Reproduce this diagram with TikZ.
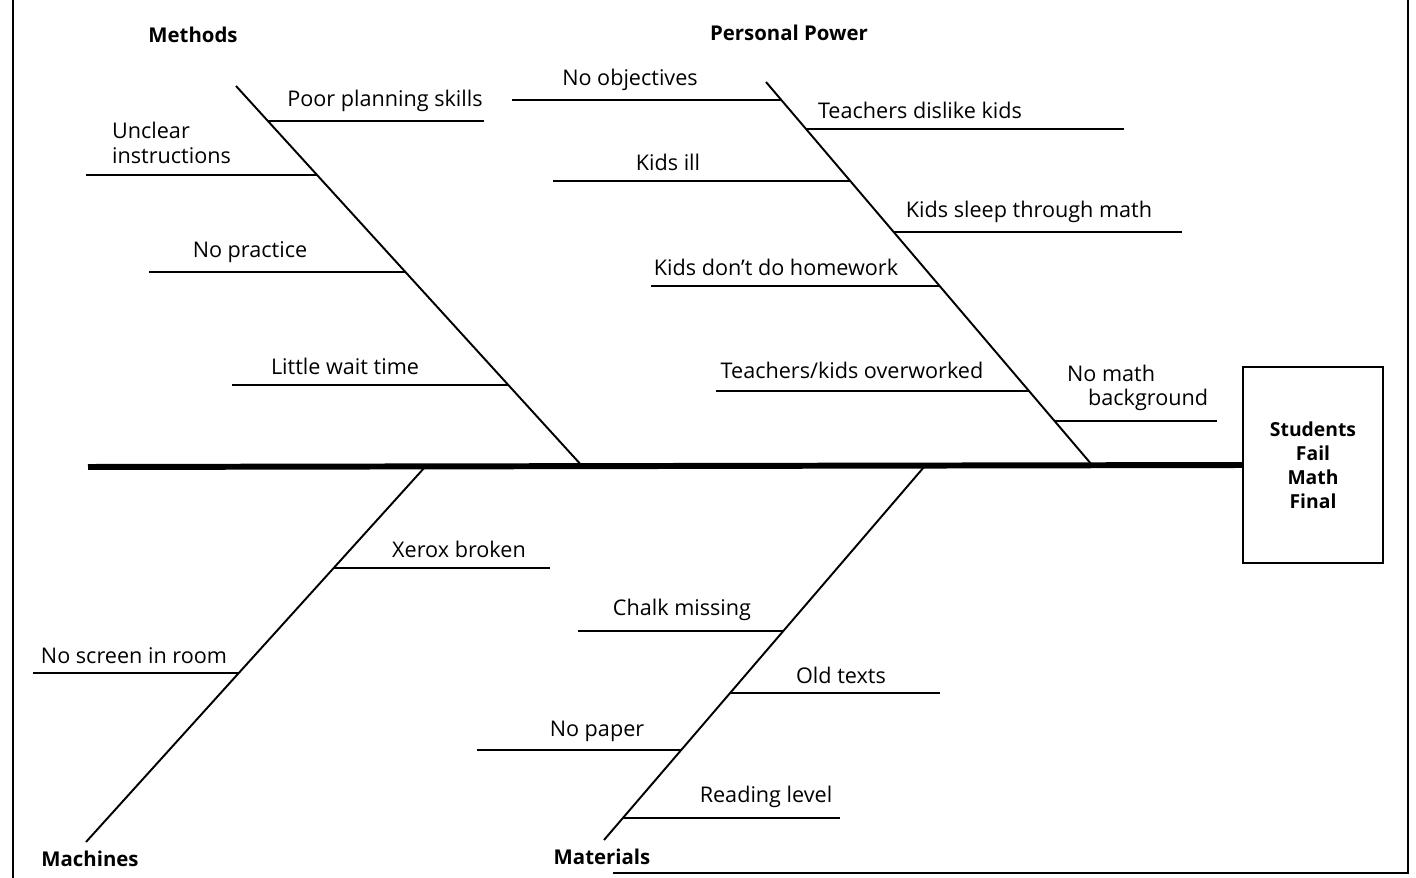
\documentclass[tikz,border=0pt]{standalone}
\usepackage{fontspec}
\setmainfont{Open Sans}
\usetikzlibrary{calc}
\tikzset{
	spine/.style={line width=3.4pt},
	bone/.style={line width=1.1pt},
	twig/.style={line width=1.3pt},
	lbl/.style={inner sep=1pt, font=\fontsize{12.3}{14}\selectfont},
	cat/.style={inner sep=1pt, font=\fontsize{11.6}{12}\selectfont\bfseries},
	effectbox/.style={draw, line width=1.2pt, minimum width=2.8cm, minimum height=3.92cm, align=center, font=\fontsize{11}{13.6}\selectfont\bfseries}
}
\begin{document}
\begin{tikzpicture}[x=0.02cm, y=-0.02cm]
		\useasboundingbox (0,0) rectangle (1416,878);
		% page frame
		\draw[line width=1pt] (13,0) -- (13,878);
		\draw[line width=1pt] (613,873) -- (1408,873) -- (1408,0);
		% head and spine
		\node[effectbox] (effect) at (1313,465) {Students\\Fail\\Math\\Final};
		\coordinate (tail) at (88,467);
		\draw[spine] (tail) -- (effect.west);
		% bones
		\coordinate (mtop) at (236,86);   \coordinate (mbot) at (583,467);
		\coordinate (ptop) at (766,82);   \coordinate (pbot) at (1092,465);
		\coordinate (cbot) at (86,842);   \coordinate (ctop) at (425,467);
		\coordinate (abot) at (604,840);  \coordinate (atop) at (924,467);
		\draw[bone] (mtop) -- (mbot);
		\draw[bone] (ptop) -- (pbot);
		\draw[bone] (cbot) -- (ctop);
		\draw[bone] (abot) -- (atop);
		% category labels
		\node[cat] (methods) at (193,35) {Methods};
		\node[cat] (power) at (789,33) {Personal Power};
		\node[cat] (machines) at (90,859) {Machines};
		\node[cat] (materials) at (602,857) {Materials};
		% Methods
		\draw[twig] ($(mtop)!0.092!(mbot)$) -- ++(216,0) coordinate (m1);
		\draw[twig] ($(mtop)!0.234!(mbot)$) -- ++(-231,0) coordinate (m2);
		\draw[twig] ($(mtop)!0.488!(mbot)$) -- ++(-256,0) coordinate (m3);
		\draw[twig] ($(mtop)!0.785!(mbot)$) -- ++(-276,0) coordinate (m4);
		\node[lbl] (planning) at (385,101) {Poor planning skills};
		\node[lbl, anchor=west, align=left] (unclear) at (110,143) {Unclear\\instructions};
		\node[lbl] (practice) at (250,252) {No practice};
		\node[lbl] (wait) at (345,366) {Little wait time};
		% Personal Power
		\draw[twig] ($(ptop)!0.047!(pbot)$) -- ++(-269,0) coordinate (p1);
		\draw[twig] ($(ptop)!0.123!(pbot)$) -- ++(318,0) coordinate (p2);
		\draw[twig] ($(ptop)!0.258!(pbot)$) -- ++(-297,0) coordinate (p3);
		\draw[twig] ($(ptop)!0.392!(pbot)$) -- ++(288,0) coordinate (p4);
		\draw[twig] ($(ptop)!0.533!(pbot)$) -- ++(-289,0) coordinate (p5);
		\draw[twig] ($(ptop)!0.807!(pbot)$) -- ++(-313,0) coordinate (p6);
		\draw[twig] ($(ptop)!0.885!(pbot)$) -- ++(162,0) coordinate (p7);
		\node[lbl] (objectives) at (630,80) {No objectives};
		\node[lbl] (dislike) at (920,110) {Teachers dislike kids};
		\node[lbl] (ill) at (668,162) {Kids ill};
		\node[lbl] (sleep) at (1029,212) {Kids sleep through math};
		\node[lbl] (homework) at (776,267) {Kids don’t do homework};
		\node[lbl] (overworked) at (852,370) {Teachers/kids overworked};
		\node[lbl, anchor=west, align=left] (background) at (1065,388) {No math\\\hspace{0.42cm}background};
		% Machines
		\draw[twig] ($(cbot)!0.731!(ctop)$) -- ++(216,0) coordinate (c1);
		\draw[twig] ($(cbot)!0.451!(ctop)$) -- ++(-206,0) coordinate (c2);
		\node[lbl] (xerox) at (459,549) {Xerox broken};
		\node[lbl] (screen) at (134,656) {No screen in room};
		% Materials
		\draw[twig] ($(abot)!0.560!(atop)$) -- ++(-205,0) coordinate (a1);
		\draw[twig] ($(abot)!0.394!(atop)$) -- ++(210,0) coordinate (a2);
		\draw[twig] ($(abot)!0.241!(atop)$) -- ++(-204,0) coordinate (a3);
		\draw[twig] ($(abot)!0.059!(atop)$) -- ++(217,0) coordinate (a4);
		\node[lbl] (chalk) at (682,610) {Chalk missing};
		\node[lbl] (texts) at (841,675) {Old texts};
		\node[lbl] (paper) at (597,731) {No paper};
		\node[lbl] (reading) at (766,797) {Reading level};
\end{tikzpicture}
\end{document}
